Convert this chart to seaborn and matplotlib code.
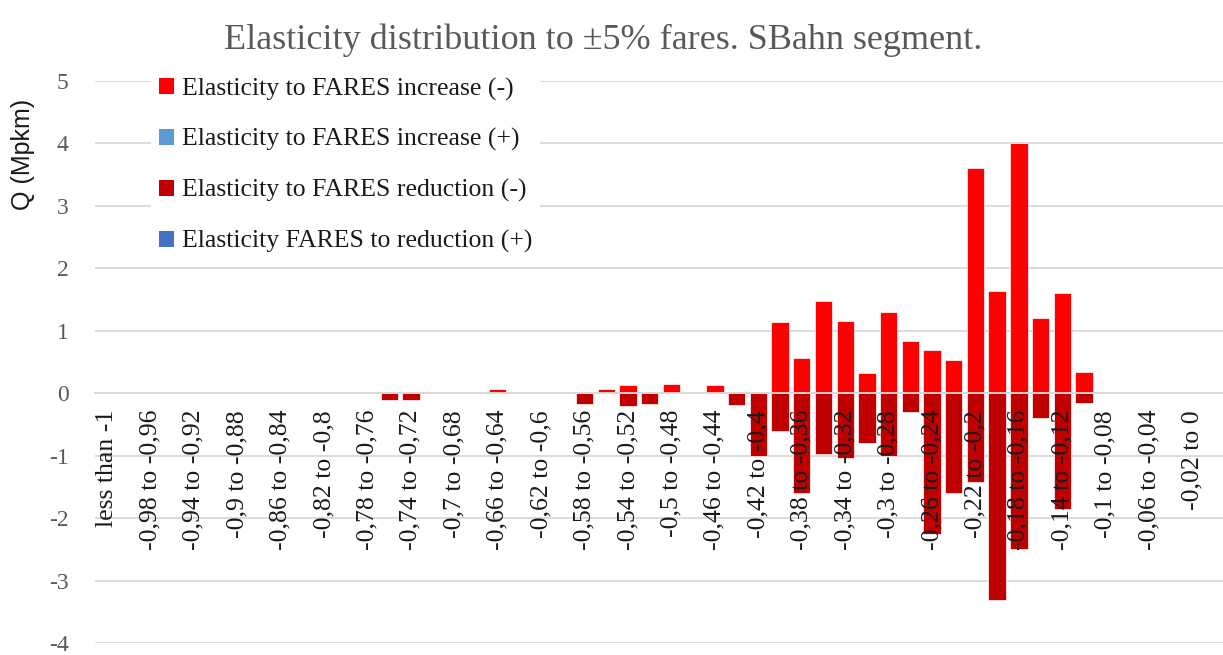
import numpy as np
import pandas as pd
import matplotlib
matplotlib.use('Agg')
import matplotlib.pyplot as plt
import seaborn as sns
from matplotlib.patches import Patch

# Rangos de elasticidad (categorias)
categories = [
    'less than -1', '-1 to -0,98', '-0,98 to -0,96', '-0,96 to -0,94', '-0,94 to -0,92',
    '-0,92 to -0,9', '-0,9 to -0,88', '-0,88 to -0,86', '-0,86 to -0,84', '-0,84 to -0,82',
    '-0,82 to -0,8', '-0,8 to -0,78', '-0,78 to -0,76', '-0,76 to -0,74', '-0,74 to -0,72',
    '-0,72 to -0,7', '-0,7 to -0,68', '-0,68 to -0,66', '-0,66 to -0,64', '-0,64 to -0,62',
    '-0,62 to -0,6', '-0,6 to -0,58', '-0,58 to -0,56', '-0,56 to -0,54', '-0,54 to -0,52',
    '-0,52 to -0,5', '-0,5 to -0,48', '-0,48 to -0,46', '-0,46 to -0,44', '-0,44 to -0,42',
    '-0,42 to -0,4', '-0,4 to -0,38', '-0,38 to -0,36', '-0,36 to -0,34', '-0,34 to -0,32',
    '-0,32 to -0,3', '-0,3 to -0,28', '-0,28 to -0,26', '-0,26 to -0,24', '-0,24 to -0,22',
    '-0,22 to -0,2', '-0,2 to -0,18', '-0,18 to -0,16', '-0,16 to -0,14', '-0,14 to -0,12',
    '-0,12 to -0,1', '-0,1 to -0,08', '-0,08 to -0,06', '-0,06 to -0,04', '-0,04 to -0,02',
    '-0,02 to 0',
]

# Q (Mpkm) por serie
increase_neg = [0, 0, 0, 0, 0, 0, 0, 0, 0, 0,
                0, 0, 0, 0, 0, 0, 0, 0, 0.07, 0,
                0, 0, 0, 0.07, 0.13, 0, 0.15, 0, 0.13, 0,
                0, 1.14, 0.56, 1.48, 1.16, 0.33, 1.30, 0.83, 0.69, 0.54,
                3.60, 1.63, 4.00, 1.20, 1.60, 0.34, 0, 0, 0, 0,
                0]
reduction_neg = [0, 0, 0, 0, 0, 0, 0, 0, 0, 0,
                 0, 0, 0, -0.11, -0.11, 0, 0, 0, 0, 0,
                 0, 0, -0.18, 0, -0.20, -0.18, 0, 0, 0, -0.19,
                 -1.00, -0.61, -1.59, -0.97, -1.03, -0.80, -1.00, -0.30, -2.25, -1.59,
                 -1.42, -3.31, -2.49, -0.40, -1.85, -0.15, 0, 0, 0, 0,
                 0]
increase_pos = [0] * len(categories)
reduction_pos = [0] * len(categories)

series_names = ['Elasticity to FARES increase (-)', 'Elasticity to FARES increase (+)',
                'Elasticity to FARES reduction (-)', 'Elasticity FARES to reduction (+)']
series_colors = ['#FF0000', '#5B9BD5', '#C00000', '#4472C4']

df = pd.DataFrame({'range': categories, 'inc_neg': increase_neg, 'inc_pos': increase_pos,
                   'red_neg': reduction_neg, 'red_pos': reduction_pos}).replace(0, np.nan)

sns.set_style('white')
plt.rcParams['font.family'] = ['Liberation Serif', 'DejaVu Serif']

fig = plt.figure(figsize=(12.23, 6.55), dpi=100)
ax = fig.add_axes([95 / 1223, 1 - 643 / 655, 1 - 95 / 1223, (643 - 81) / 655])

for col, color in zip(['inc_neg', 'inc_pos', 'red_neg', 'red_pos'], series_colors):
    sns.barplot(data=df, x='range', y=col, order=categories, color=color, saturation=1,
                width=0.8, errorbar=None, edgecolor='white', linewidth=0.5, ax=ax)

# eje de categorias sobre la linea del cero (antes de poner los ticks)
for s in ['top', 'right', 'left']:
    ax.spines[s].set_visible(False)
ax.spines['bottom'].set_position(('data', 0))
ax.spines['bottom'].set_color('#d9d9d9')
ax.spines['bottom'].set_linewidth(1.3)
ax.set_axisbelow(False)  # etiquetas encima de las barras, como en Excel

ax.set_ylim(-4, 5)
ax.set_xlim(-0.55, 51.4)
for y in range(-4, 6):
    ax.axhline(y, color='#d9d9d9', lw=1.3, zorder=0)

ax.set_yticks(range(-4, 6))
ax.set_yticklabels([str(v) for v in range(-4, 6)], color='#595959', fontsize=17)
ax.set_xticks(range(0, len(categories), 2))
ax.set_xticklabels(categories[::2], rotation=90, fontsize=18.5, color='#1a1a1a')
ax.tick_params(axis='x', length=0, pad=12)
ax.tick_params(axis='y', length=0, pad=19)

ax.set_xlabel('')
ax.set_ylabel('Q (Mpkm)', fontsize=18, family='Liberation Sans', color='#1a1a1a')
ax.yaxis.set_label_coords(-0.053, 0.87)

fig.text(0.493, 1 - 40 / 655, 'Elasticity distribution to ±5% fares. SBahn segment.',
         ha='center', va='center', fontsize=26, color='#595959')

handles = [Patch(facecolor=c, edgecolor='none') for c in series_colors]
leg = fig.legend(handles, series_names, loc='upper left', bbox_to_anchor=(138 / 1223, 1 - 57 / 655),
                 fontsize=18.5, frameon=True, facecolor='white', edgecolor='none', framealpha=1,
                 handlelength=0.6, handleheight=0.6, handletextpad=0.3, labelspacing=1.08,
                 borderpad=0.3, fancybox=False)
for t in leg.get_texts():
    t.set_color('#1a1a1a')

plt.savefig('out.png', dpi=100)
